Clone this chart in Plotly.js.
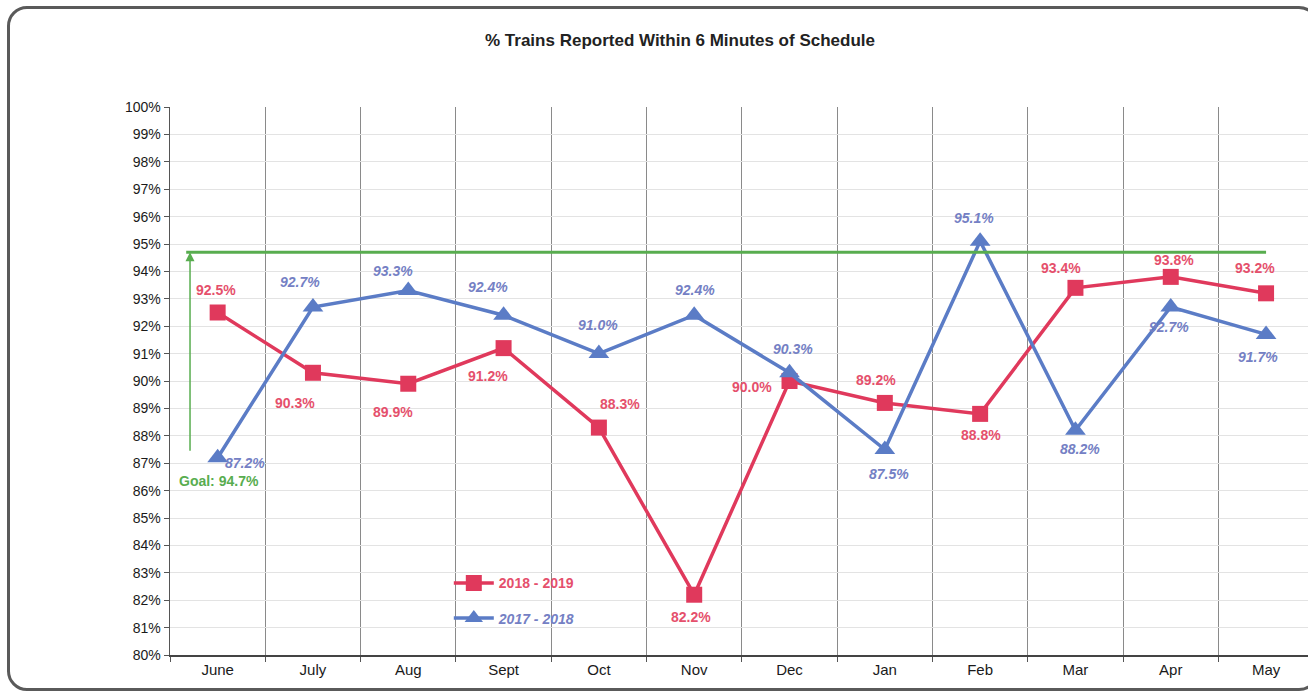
<!DOCTYPE html>
<html>
<head>
<meta charset="utf-8">
<script src="https://cdn.plot.ly/plotly-3.0.1.min.js"></script>
<style>
  html, body { margin: 0; padding: 0; background: #fff; overflow: hidden; }
  #wrap { position: relative; width: 1308px; height: 694px; overflow: hidden; }
  #chart { position: absolute; left: 0; top: 0; width: 1308px; height: 694px; }
  #frame { position: absolute; left: 7px; top: 6px; width: 1312px; height: 685px;
           border: 3px solid #5a5a5a; border-radius: 20px; pointer-events: none; box-sizing: border-box; }
</style>
</head>
<body>
<div id="wrap">
  <div id="chart"></div>
  <div id="frame"></div>
</div>
<script>
const months = ["June", "July", "Aug", "Sept", "Oct", "Nov", "Dec", "Jan", "Feb", "Mar", "Apr", "May"];
const series2018_2019 = [92.5, 90.3, 89.9, 91.2, 88.3, 82.2, 90.0, 89.2, 88.8, 93.4, 93.8, 93.2];
const series2017_2018 = [87.2, 92.7, 93.3, 92.4, 91.0, 92.4, 90.3, 87.5, 95.1, 88.2, 92.7, 91.7];
const goal = 94.7;
const yTicks = [80, 81, 82, 83, 84, 85, 86, 87, 88, 89, 90, 91, 92, 93, 94, 95, 96, 97, 98, 99, 100];
const yTickText = yTicks.map(v => v + "%");

// label offsets in pixels (styling only)
const redOff = [[-2,-23],[-18,30],[-15,28],[-16,28],[21,-24],[-3,22],[-38,6],[-9,-23],[1,21],[-14,-20],[3,-17],[-11,-25]];
const blueOff = [[27,5],[-13,-25],[-15,-20],[-16,-28],[-1,-29],[1,-25],[3,-24],[4,24],[-6,-23],[5,19],[-2,20],[-8,23]];

const RED = "#e0395c";
const RED_TXT = "#e5506c";
const BLUE = "#5b7cc6";
const BLUE_TXT = "#7480c4";
const GREEN = "#58ad4f";
const FONT = "Liberation Sans, Arial, sans-serif";

const traces = [
  {
    x: months, y: series2018_2019, type: "scatter", mode: "lines+markers",
    name: '<span style="color:' + RED_TXT + '"><b>2018 - 2019</b></span>',
    legendgroup: "a",
    line: { color: RED, width: 3.5 },
    marker: { symbol: "square", size: 16, color: RED }
  },
  {
    x: months, y: series2017_2018, type: "scatter", mode: "lines+markers",
    name: '<span style="color:' + BLUE_TXT + '"><b><i>2017 - 2018</i></b></span>',
    legendgroup: "b",
    line: { color: BLUE, width: 3.5 },
    marker: { symbol: "triangle-up", size: 18, color: BLUE }
  }
];

const annotations = [];
series2018_2019.forEach((v, i) => {
  annotations.push({
    x: months[i], y: v, xref: "x", yref: "y", showarrow: false,
    text: "<b>" + v.toFixed(1) + "%</b>",
    font: { family: FONT, size: 14, color: RED_TXT },
    xshift: redOff[i][0], yshift: -redOff[i][1]
  });
});
series2017_2018.forEach((v, i) => {
  annotations.push({
    x: months[i], y: v, xref: "x", yref: "y", showarrow: false,
    text: "<b><i>" + v.toFixed(1) + "%</i></b>",
    font: { family: FONT, size: 14, color: BLUE_TXT },
    xshift: blueOff[i][0], yshift: -blueOff[i][1]
  });
});
// goal arrow
annotations.push({
  x: -0.29, y: goal, ax: -0.29, ay: 87.4, xref: "x", yref: "y", axref: "x", ayref: "y",
  showarrow: true, arrowhead: 2, arrowsize: 1.2, arrowwidth: 1.5, arrowcolor: GREEN, text: ""
});
annotations.push({
  x: -0.29, y: 86.35, xref: "x", yref: "y", xanchor: "left", showarrow: false, xshift: -13,
  text: "<b>Goal: " + goal.toFixed(1) + "%</b>",
  font: { family: FONT, size: 14, color: GREEN }
});

const layout = {
  width: 1308, height: 694,
  margin: { l: 170, r: 0, t: 107, b: 39 },
  paper_bgcolor: "#ffffff", plot_bgcolor: "#ffffff",
  title: {
    text: "<b>% Trains Reported Within 6 Minutes of Schedule</b>",
    font: { family: FONT, size: 17, color: "#222" },
    x: 680 / 1308, xanchor: "center", y: 1 - 40 / 694, yanchor: "middle", yref: "container", xref: "container"
  },
  showlegend: true,
  legend: {
    x: 0.245, y: 0.16, xanchor: "left", yanchor: "top",
    bgcolor: "rgba(255,255,255,0)", traceorder: "grouped", tracegroupgap: 14,
    font: { family: FONT, size: 14 },
    itemwidth: 40
  },
  xaxis: {
    type: "category", range: [-0.5, 11.44], tickson: "boundaries",
    showgrid: true, gridcolor: "#8a8a8a", gridwidth: 1,
    showline: true, linecolor: "#444", linewidth: 1.5,
    ticks: "outside", ticklen: 5, tickcolor: "#555",
    tickfont: { family: FONT, size: 15, color: "#1a1a1a" },
    fixedrange: true
  },
  yaxis: {
    range: [80, 100], tickmode: "array", tickvals: yTicks, ticktext: yTickText,
    showgrid: true, gridcolor: "#e3e3e3", gridwidth: 1,
    showline: true, linecolor: "#555", linewidth: 1.5,
    ticks: "outside", ticklen: 5, tickcolor: "#555",
    tickfont: { family: FONT, size: 14, color: "#1a1a1a" },
    zeroline: false, fixedrange: true
  },
  shapes: [
    { type: "line", xref: "x", yref: "y", x0: -0.33, x1: 11.0, y0: goal, y1: goal,
      line: { color: GREEN, width: 3 } }
  ],
  annotations: annotations
};

Plotly.newPlot("chart", traces, layout, { displayModeBar: false, staticPlot: true });
</script>
</body>
</html>
